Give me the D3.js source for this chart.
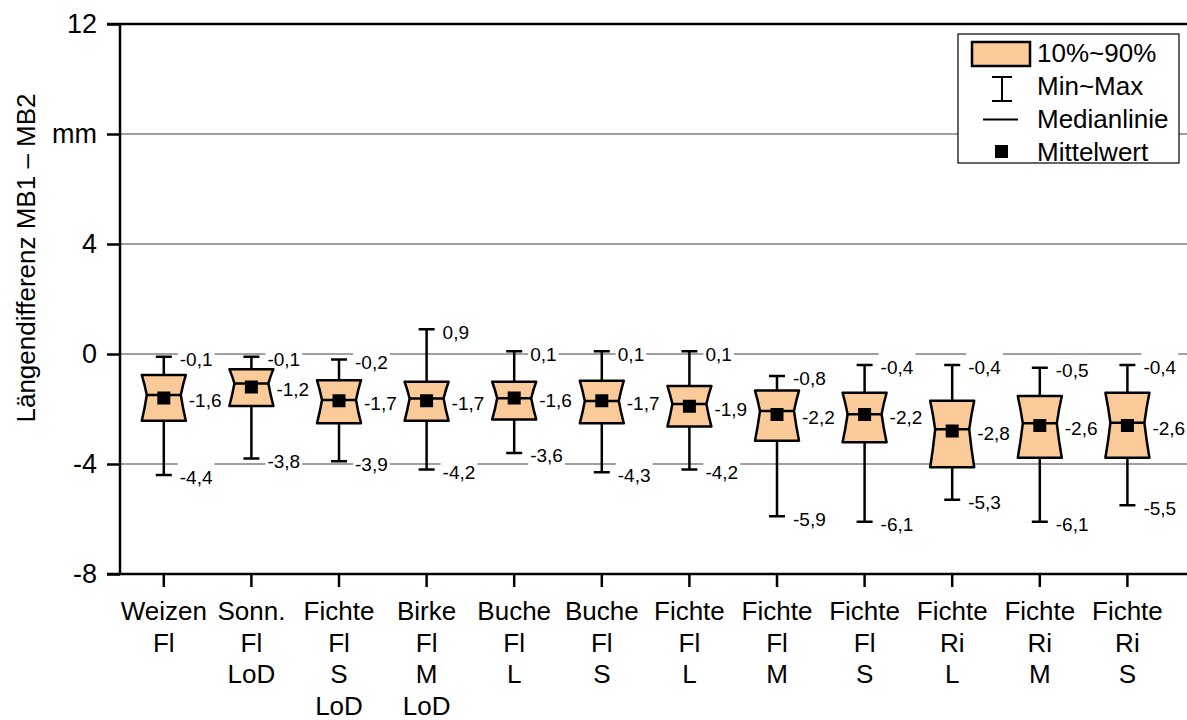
<!DOCTYPE html>
<html>
<head>
<meta charset="utf-8">
<script src="https://cdn.jsdelivr.net/npm/d3@7"></script>
<style>
  body { margin: 0; background: #fff; }
  text { font-family: "Liberation Sans", Arial, sans-serif; fill: #000; }
</style>
</head>
<body>
<div id="chart"></div>
<script>
// categories (label lines under each box)
const categories = [
  ["Weizen", "Fl"], ["Sonn.", "Fl", "LoD"], ["Fichte", "Fl", "S", "LoD"], ["Birke", "Fl", "M", "LoD"],
  ["Buche", "Fl", "L"], ["Buche", "Fl", "S"], ["Fichte", "Fl", "L"], ["Fichte", "Fl", "M"],
  ["Fichte", "Fl", "S"], ["Fichte", "Ri", "L"], ["Fichte", "Ri", "M"], ["Fichte", "Ri", "S"]
];
const maxValues = [-0.1, -0.1, -0.2, 0.9, 0.1, 0.1, 0.1, -0.8, -0.4, -0.4, -0.5, -0.4];
const p90Values = [-0.76, -0.55, -0.95, -1.01, -1.01, -0.97, -1.16, -1.33, -1.41, -1.70, -1.53, -1.41];
const medianValues = [-1.49, -1.07, -1.67, -1.62, -1.61, -1.71, -1.82, -2.07, -2.19, -2.74, -2.52, -2.50];
const meanValues = [-1.6, -1.2, -1.7, -1.7, -1.6, -1.7, -1.9, -2.2, -2.2, -2.8, -2.6, -2.6];
const p10Values = [-2.43, -1.89, -2.52, -2.43, -2.38, -2.52, -2.64, -3.15, -3.21, -4.12, -3.77, -3.77];
const minValues = [-4.4, -3.8, -3.9, -4.2, -3.6, -4.3, -4.2, -5.9, -6.1, -5.3, -6.1, -5.5];

const yTicks = [12, 8, 4, 0, -4, -8];
const yTickLabels = ["12", "mm", "4", "0", "-4", "-8"];
const gridValues = [8, 4, 0, -4];
const legendLabels = ["10%~90%", "Min~Max", "Medianlinie", "Mittelwert"];

const width = 1187, height = 720;
const plotLeft = 120, plotTop = 24, plotBottom = 574, plotRight = 1187;
const boxFill = "#FACB98";

const svg = d3.select("#chart")
    .append("svg")
    .attr("width", width)
    .attr("height", height);

const x = d3.scaleBand()
    .domain(d3.range(categories.length))
    .range([plotLeft, plotLeft + 12 * 87.6]);

const y = d3.scaleLinear()
    .domain([-8, 12])
    .range([plotBottom, plotTop]);

const loc = d3.formatLocale({ decimal: ",", thousands: ".", grouping: [3], currency: ["", "€"], minus: "-" });
const fmt = loc.format(".1f");

const cx = i => x(i) + x.bandwidth() / 2;

// grid
svg.append("g")
    .selectAll("line")
    .data(gridValues)
    .join("line")
    .attr("x1", plotLeft).attr("x2", plotRight)
    .attr("y1", d => y(d)).attr("y2", d => y(d))
    .attr("stroke", "#808080")
    .attr("stroke-width", 1.5);

// value labels (drawn with white background)
const labels = [];
categories.forEach((c, i) => {
  labels.push({ x: cx(i) + 16, v: maxValues[i] });
  labels.push({ x: cx(i) + 25, v: meanValues[i] });
  labels.push({ x: cx(i) + 16, v: minValues[i] });
});

const labelG = svg.append("g");
const lab = labelG.selectAll("g")
    .data(labels)
    .join("g");
lab.append("rect").attr("fill", "#fff");
lab.append("text")
    .attr("x", d => d.x)
    .attr("y", d => y(d.v) + 9.3)
    .style("font-size", "19px")
    .text(d => fmt(d.v));
lab.each(function (d) {
  const w = d3.select(this).select("text").node().getComputedTextLength();
  d3.select(this).select("rect")
    .attr("x", d.x - 2).attr("width", w + 4)
    .attr("y", y(d.v) - 12.5).attr("height", 26);
});

// whiskers
const boxes = svg.append("g")
    .selectAll("g")
    .data(categories.map((c, i) => i))
    .join("g");

boxes.append("line")
    .attr("x1", cx).attr("x2", cx)
    .attr("y1", i => y(maxValues[i])).attr("y2", i => y(minValues[i]))
    .attr("stroke", "#000").attr("stroke-width", 2.5);
boxes.append("line")
    .attr("x1", i => cx(i) - 8).attr("x2", i => cx(i) + 8)
    .attr("y1", i => y(maxValues[i])).attr("y2", i => y(maxValues[i]))
    .attr("stroke", "#000").attr("stroke-width", 2.5);
boxes.append("line")
    .attr("x1", i => cx(i) - 8).attr("x2", i => cx(i) + 8)
    .attr("y1", i => y(minValues[i])).attr("y2", i => y(minValues[i]))
    .attr("stroke", "#000").attr("stroke-width", 2.5);

// notched boxes
const hw = 22, notch = 5;
boxes.append("path")
    .attr("d", i => {
      const c = cx(i), t = y(p90Values[i]), m = y(medianValues[i]), b = y(p10Values[i]);
      return `M${c - hw},${t}L${c + hw},${t}Q${c + hw - 3},${(t + m) / 2} ${c + hw - notch},${m}` +
             `Q${c + hw - 3},${(m + b) / 2} ${c + hw},${b}L${c - hw},${b}` +
             `Q${c - hw + 3},${(m + b) / 2} ${c - hw + notch},${m}Q${c - hw + 3},${(t + m) / 2} ${c - hw},${t}Z`;
    })
    .attr("fill", boxFill)
    .attr("stroke", "#000")
    .attr("stroke-width", 2.5)
    .attr("stroke-linejoin", "round");

boxes.append("line")
    .attr("x1", i => cx(i) - hw + notch).attr("x2", i => cx(i) + hw - notch)
    .attr("y1", i => y(medianValues[i])).attr("y2", i => y(medianValues[i]))
    .attr("stroke", "#000").attr("stroke-width", 2.5);

boxes.append("rect")
    .attr("x", i => cx(i) - 6.5).attr("y", i => y(meanValues[i]) - 6.5)
    .attr("width", 13).attr("height", 13)
    .attr("fill", "#000");

// axes
const yAxis = svg.append("g")
    .attr("transform", `translate(${plotLeft},0)`)
    .call(d3.axisLeft(y).tickValues(yTicks).tickSize(13).tickPadding(10)
        .tickFormat((d, i) => yTickLabels[i]));
yAxis.select(".domain").remove();
yAxis.selectAll(".tick line").attr("stroke", "#000").attr("stroke-width", 2.5);
yAxis.selectAll(".tick text").style("font-size", "27px").attr("font-family", null);

const xAxis = svg.append("g")
    .attr("transform", `translate(0,${plotBottom})`)
    .call(d3.axisBottom(x).tickSize(13).tickFormat(""));
xAxis.select(".domain").remove();
xAxis.selectAll(".tick line").attr("stroke", "#000").attr("stroke-width", 2.5);
xAxis.selectAll(".tick text").remove();
xAxis.selectAll(".tick")
    .append("text")
    .attr("text-anchor", "middle")
    .style("font-size", "26px")
    .selectAll("tspan")
    .data(i => categories[i])
    .join("tspan")
    .attr("x", 0)
    .attr("y", (d, j) => 46 + j * 31.5)
    .text(d => d);

// frame lines
svg.append("line").attr("x1", plotLeft).attr("x2", plotLeft).attr("y1", plotTop).attr("y2", plotBottom)
    .attr("stroke", "#000").attr("stroke-width", 2.5);
svg.append("line").attr("x1", 107).attr("x2", plotRight).attr("y1", plotBottom).attr("y2", plotBottom)
    .attr("stroke", "#000").attr("stroke-width", 2.5);
svg.append("line").attr("x1", 107).attr("x2", plotRight).attr("y1", plotTop).attr("y2", plotTop)
    .attr("stroke", "#000").attr("stroke-width", 2.5);

// y title
svg.append("text")
    .attr("transform", "translate(35,258) rotate(-90)")
    .attr("text-anchor", "middle")
    .style("font-size", "26px")
    .text("Längendifferenz MB1 – MB2");

// legend
const legend = svg.append("g").attr("transform", "translate(958,34)");
legend.append("rect")
    .attr("width", 221).attr("height", 129)
    .attr("fill", "#fff").attr("stroke", "#000").attr("stroke-width", 1.2);
legend.append("rect")
    .attr("x", 14).attr("y", 8).attr("width", 58).attr("height", 24)
    .attr("fill", boxFill).attr("stroke", "#000").attr("stroke-width", 2.5);
legend.append("path")
    .attr("d", "M34,43H54M44,43V67M34,67H54")
    .attr("fill", "none").attr("stroke", "#000").attr("stroke-width", 2);
legend.append("line")
    .attr("x1", 25).attr("x2", 60).attr("y1", 85.5).attr("y2", 85.5)
    .attr("stroke", "#000").attr("stroke-width", 2);
legend.append("rect")
    .attr("x", 37).attr("y", 111).attr("width", 13).attr("height", 13)
    .attr("fill", "#000");
legend.selectAll("text.leg")
    .data(legendLabels)
    .join("text")
    .attr("class", "leg")
    .attr("x", 79)
    .attr("y", (d, i) => 28 + i * 33)
    .style("font-size", "26px")
    .text(d => d);
</script>
</body>
</html>
